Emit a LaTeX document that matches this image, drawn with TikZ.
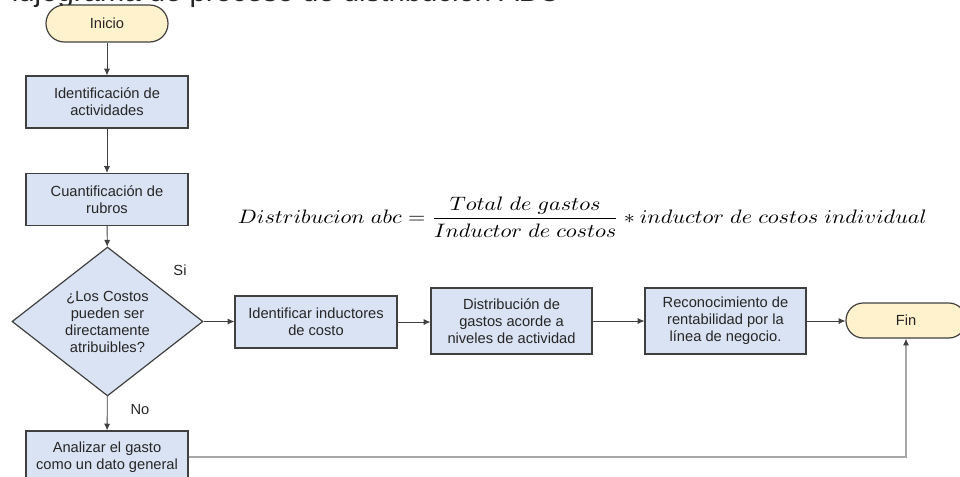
\documentclass[tikz,border=0pt]{standalone}
\usepackage{fontspec}
\setmainfont{Liberation Sans}
\usepackage{graphicx}
\usetikzlibrary{shapes.geometric,arrows.meta}
\definecolor{boxfill}{HTML}{DAE3F3}
\definecolor{termfill}{HTML}{FFF2CC}
\definecolor{edgecol}{HTML}{404040}
\definecolor{txt}{HTML}{262626}
\definecolor{grayline}{HTML}{A6A6A6}
\begin{document}
\begin{tikzpicture}[x=0.75pt,y=-0.75pt,
  every node/.style={font=\fontsize{11}{12.75}\selectfont, text=txt},
  procbox/.style={draw=edgecol, line width=0.9pt, fill=boxfill, align=center, minimum width=121.5pt, minimum height=39pt, inner sep=0pt},
  termbox/.style={draw=edgecol, line width=0.9pt, fill=termfill, align=center, inner sep=0pt},
  decbox/.style={diamond, draw=edgecol, line width=0.9pt, fill=boxfill, align=center, inner sep=0pt, minimum width=143.25pt, minimum height=111.75pt},
  flow/.style={draw=edgecol, line width=0.6pt, -{Latex[length=5pt,width=4.5pt]}},
  lbl/.style={inner sep=0pt}
]
\clip (0,0) rectangle (960,476);
\useasboundingbox (0,0) rectangle (960,476);

% title (cut off at the top edge)
\node[anchor=south west, inner sep=0pt, outer sep=0pt, font=\fontsize{22}{26}\selectfont] (title) at (-6,7.5) {Flujograma de proceso de distribución ABC};

\node[termbox, minimum width=91.5pt, minimum height=27.75pt, rounded corners=13.8pt] (inicio) at (107,23.5) {Inicio};
\node[procbox] (act) at (107,102) {Identificación de\\actividades};
\node[procbox] (rub) at (107,199.5) {Cuantificación de\\rubros};
\node[decbox] (dec) at (107.5,321.5) {¿Los Costos\\pueden ser\\directamente\\atribuibles?};
\node[procbox] (anal) at (107,457) {Analizar el gasto\\como un dato general};
\node[procbox] (ident) at (316,322) {Identificar inductores\\de costo};
\node[procbox, minimum width=120.75pt, minimum height=49.5pt] (dist) at (511.5,321) {Distribución de\\gastos acorde a\\niveles de actividad};
\node[procbox, minimum width=120.75pt, minimum height=49.5pt] (recon) at (725.5,321) {Reconocimiento de\\rentabilidad por la\\línea de negocio.};
\node[termbox, minimum width=90pt, minimum height=26.25pt, rounded corners=13pt] (fin) at (906,320.5) {Fin};

\node[lbl] (si) at (180,270) {Si};
\node[lbl] (no) at (140,410) {No};

\node[inner sep=0pt, text=black] (formula) at (582.5,217) {\resizebox*{516.75pt}{30pt}{$\displaystyle Distribucion\ abc=\frac{Total\ de\ gastos}{Inductor\ de\ costos}*inductor\ de\ costos\ individual$}};

\draw[flow] (inicio) -- (act);
\draw[flow] (act) -- (rub);
\draw[flow] (rub) -- (dec);
\draw[flow] (dec) -- (anal);
\draw[flow] (dec.east) -- (dec.east -| ident.west);
\draw[flow] (ident.east) -- (ident.east -| dist.west);
\draw[flow] (dist.east) -- (dist.east -| recon.west);
\draw[flow] (recon.east) -- (recon.east -| fin.west);
\draw[draw=grayline, line width=0.9pt, -{Latex[length=5pt,width=4.5pt,color=edgecol]}] (anal.east) -| (fin.south);
\end{tikzpicture}
\end{document}
